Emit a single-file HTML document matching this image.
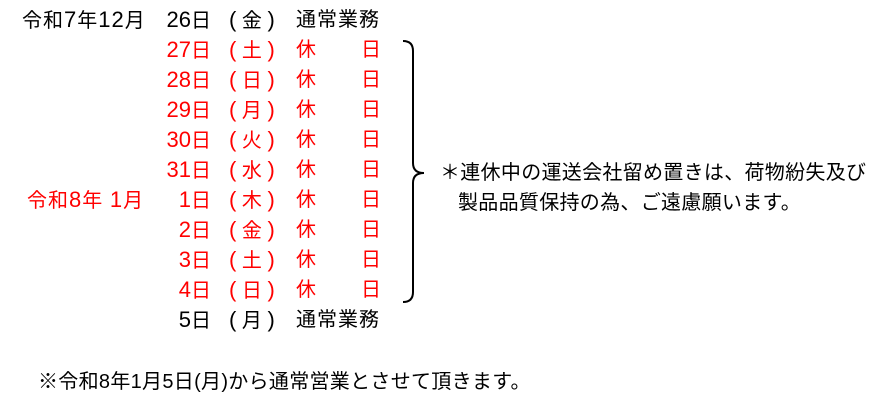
<!DOCTYPE html>
<html><head><meta charset="utf-8"><style>
body{margin:0;width:895px;height:412px;background:#fff;position:relative;overflow:hidden;font-family:"Liberation Sans","Noto Sans CJK JP",sans-serif;font-size:20px;color:#000}
.t{position:absolute;line-height:30px;white-space:nowrap}
.r{color:#f00}
.n{font-size:22px}
</style></head><body>
<div class="t" style="left:22px;top:5px;letter-spacing:1px"><span>令和</span><span class="n">7</span>年<span class="n">12</span>月</div>
<div class="t r" style="left:27px;top:185px;letter-spacing:1px">令和<span class="n">8</span>年 <span class="n">1</span>月</div>
<div id="rows"></div>
<svg style="position:absolute;left:0;top:0" width="895" height="412">
<path d="M403 41 Q413 41 413 51 L413 163 Q413 173 424 173 Q413 173 413 183 L413 292 Q413 302 403 302" fill="none" stroke="#000" stroke-width="2"/>
</svg>
<div class="t" style="left:440px;top:158px;letter-spacing:0.3px">＊連休中の運送会社留め置きは、荷物紛失及び</div>
<div class="t" style="left:458px;top:188px;letter-spacing:0.3px">製品品質保持の為、ご遠慮願います。</div>
<div class="t" style="left:38px;top:367px;letter-spacing:0.3px">※令和8年1月5日(月)から通常営業とさせて頂きます。</div>
<script>
var d=[["26","金",0],["27","土",1],["28","日",1],["29","月",1],["30","火",1],["31","水",1],["1","木",1],["2","金",1],["3","土",1],["4","日",1],["5","月",0]];
var h="";
d.forEach(function(r,i){var y=5+i*30;var c=r[2]?" r":"";
h+='<div class="t'+c+'" style="right:'+(895-211)+'px;top:'+y+'px"><span class="n">'+r[0]+'</span>日</div>';
h+='<div class="t'+c+'" style="left:229px;top:'+y+'px"><span class="n">(</span> '+r[1]+' <span class="n">)</span></div>';
if(r[2]){h+='<div class="t r" style="left:296px;top:'+y+'px">休</div><div class="t r" style="left:361px;top:'+y+'px">日</div>';}
else h+='<div class="t" style="left:296px;top:'+y+'px;letter-spacing:1px">通常業務</div>';});
document.getElementById("rows").outerHTML=h;
</script>
</body></html>
